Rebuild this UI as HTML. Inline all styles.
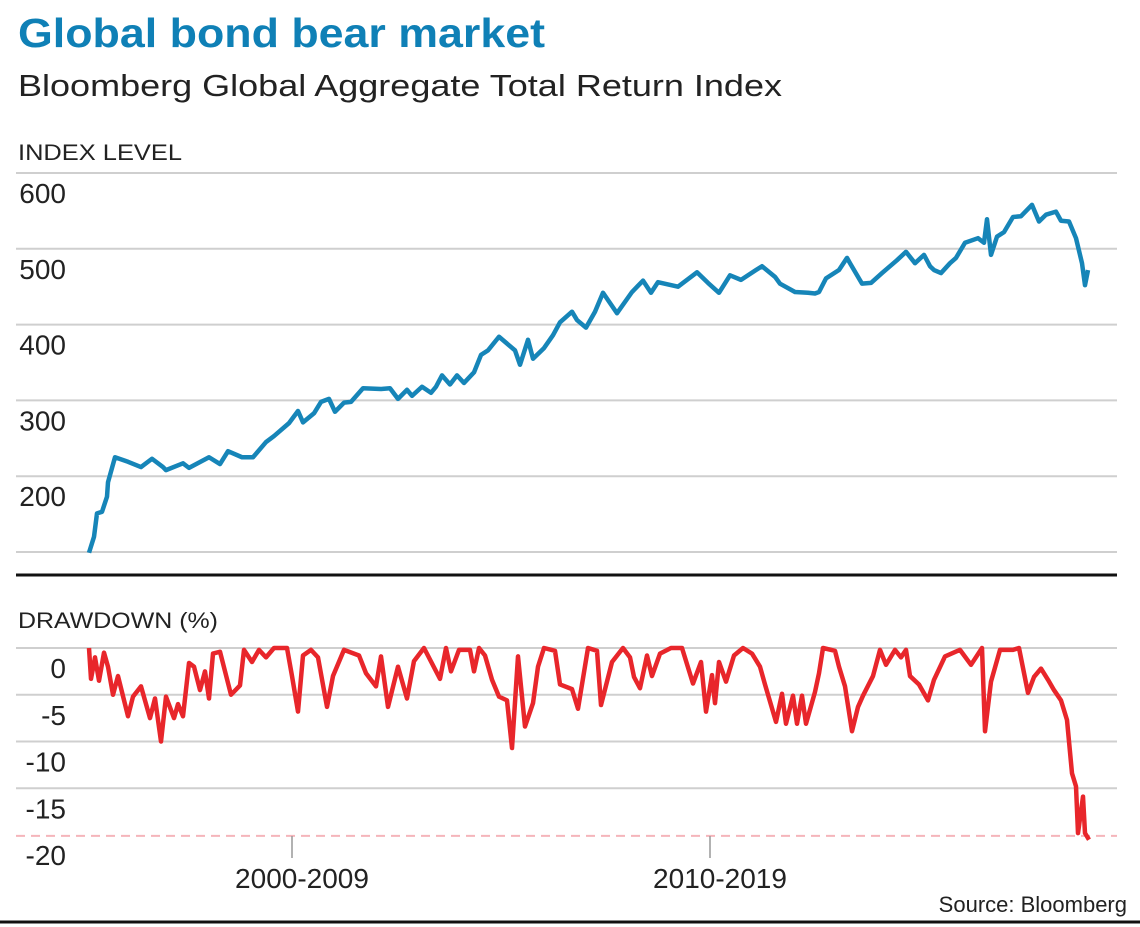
<!DOCTYPE html>
<html><head><meta charset="utf-8"><style>
body{margin:0;background:#fff;}
svg{display:block;font-family:"Liberation Sans",sans-serif;}
</style></head><body>
<svg width="1140" height="927" viewBox="0 0 1140 927">
<text x="18" y="47" font-size="41" font-weight="bold" fill="#0f80b6" textLength="527" lengthAdjust="spacingAndGlyphs">Global bond bear market</text>
<text x="18" y="96" font-size="31" fill="#222" textLength="764" lengthAdjust="spacingAndGlyphs">Bloomberg Global Aggregate Total Return Index</text>
<text x="18" y="160" font-size="22" fill="#222" textLength="164" lengthAdjust="spacingAndGlyphs">INDEX LEVEL</text>
<text x="18" y="628" font-size="22" fill="#222" textLength="200" lengthAdjust="spacingAndGlyphs">DRAWDOWN (%)</text>
<g id="topPanel"></g>
<g id="botPanel"></g>
<line x1="16" y1="575" x2="1117" y2="575" stroke="#111" stroke-width="3"/>
<line x1="0" y1="922" x2="1140" y2="922" stroke="#111" stroke-width="3"/>
<text x="1127" y="912" font-size="22" fill="#222" text-anchor="end">Source: Bloomberg</text>
</svg>
<script>
// x positions expressed as years: decade ticks at 2005 and 2015
const indexYears=[];
const indexXpx=[89,94,97,102,107,108,115,128,141,152,163,166,183,189,209,220,228,242,253,266,274,289,298,303,314,321,329,335,344,351,363,381,390,398,407,412,422,431,436,442,450,457,464,474,481,488,499,515,520,528,533,544,553,560,572,577,586,595,603,617,632,643,651,658,678,697,708,719,730,741,756,762,775,780,795,808,815,819,826,839,847,850,862,871,882,897,906,915,924,930,934,941,950,956,965,978,984,987,991,997,1004,1013,1021,1032,1039,1046,1056,1061,1069,1076,1082,1085,1088];
const indexValues=[99,120,151,153,173,192,225,219,212,223,212,208,217,211,225,216,233,225,225,245,253,270,286,271,283,298,302,285,297,298,316,315,316,302,314,306,318,310,318,333,321,333,323,337,360,366,384,366,347,380,355,369,386,403,417,406,396,417,442,415,443,458,442,456,450,469,455,442,465,459,472,477,463,454,443,442,441,443,461,472,488,481,454,455,468,485,496,481,492,477,472,468,481,488,508,514,508,539,492,516,522,542,543,558,536,545,549,537,536,514,481,452,472,452];
const ddXpx=[89,91,95,99,104,108,113,118,128,133,141,150,155,161,166,174,178,183,189,194,200,205,209,213,220,231,240,244,252,259,266,274,287,292,298,303,311,318,327,333,344,359,366,376,381,388,398,407,414,424,440,446,451,459,470,474,479,485,492,499,507,512,518,525,533,538,544,555,560,572,578,588,597,601,612,623,630,634,640,647,652,660,671,682,693,701,706,712,715,719,726,734,743,752,760,765,776,782,786,793,797,802,806,815,819,823,835,839,845,852,858,863,873,880,886,895,901,906,910,919,928,934,945,960,971,982,985,991,1000,1013,1019,1028,1034,1041,1048,1054,1061,1067,1072,1076,1078,1083,1085,1089];
const ddValues=[0,-3.3,-1,-3.5,-0.5,-2,-5,-3,-7.3,-5.2,-4.1,-7.5,-5.4,-10,-5.2,-7.5,-6,-7.3,-1.6,-2,-4.5,-2.5,-5.4,-0.6,-0.4,-5,-4,-0.2,-1.5,-0.2,-1,0,0,-3,-6.8,-0.8,-0.2,-1,-6.3,-3,-0.2,-0.8,-2.7,-4.1,-0.9,-6.3,-2,-5.4,-1.4,0,-3.3,0,-2.5,-0.2,-0.2,-2.5,0,-0.8,-3.4,-5.2,-5.6,-10.7,-0.9,-8.4,-5.9,-2,0,-0.3,-3.9,-4.4,-6.5,0,-0.3,-6.1,-1.5,0,-1,-3.1,-4.3,-0.8,-3,-0.6,0,0,-3.8,-1.5,-6.8,-2.9,-5.9,-1.5,-3.6,-0.8,0,-0.6,-2,-3.9,-7.9,-4.9,-8.1,-5.1,-8.1,-5.1,-8.1,-4.7,-2.7,0,-0.3,-2,-4.1,-8.9,-6.3,-5.1,-3,-0.2,-1.8,-0.2,-1,-0.2,-3,-3.9,-5.6,-3.4,-0.9,-0.2,-1.8,0,-8.9,-3.6,-0.2,-0.2,0,-4.8,-3.1,-2.2,-3.4,-4.5,-5.6,-7.7,-13.4,-14.8,-19.8,-15.9,-19.8,-20.5];
const ddYears=[];
indexXpx.forEach(p=>indexYears.push(2005+(p-292)/41.8));
ddXpx.forEach(p=>ddYears.push(2005+(p-292)/41.8));
const indexTicks=[600,500,400,300,200,100];
const ddTicks=[0,-5,-10,-15];
const decadeLabels=["2000-2009","2010-2019"];
const decadeTickYears=[2005,2015];

const NS="http://www.w3.org/2000/svg";
const xS=t=>292+(t-2005)*41.8;
const yTop=v=>173+(600-v)*0.758;
const yBot=v=>648-v*9.35;
function mk(tag,attrs,parent){const e=document.createElementNS(NS,tag);for(const k in attrs)e.setAttribute(k,attrs[k]);parent.appendChild(e);return e;}
const topG=document.getElementById('topPanel'),botG=document.getElementById('botPanel');
indexTicks.forEach(v=>{
  const l=mk('line',{x1:16,x2:1117,y1:yTop(v),y2:yTop(v),stroke:'#cfcfcf','stroke-width':2},topG);
  
  
  if(v>100){const t=mk('text',{x:66,y:yTop(v)+30,'font-size':28,fill:'#222','text-anchor':'end'},topG);t.textContent=v;
  
  }
});
ddTicks.forEach(v=>{
  const l=mk('line',{x1:16,x2:1117,y1:yBot(v),y2:yBot(v),stroke:'#cfcfcf','stroke-width':2},botG);
  
  
});
[0,-5,-10,-15,-20].forEach(v=>{
  const t=mk('text',{x:66,y:yBot(v)+30,'font-size':28,fill:'#222','text-anchor':'end'},botG);t.textContent=v;
  
  
});
const dl=mk('line',{x1:16,x2:1117,y1:yBot(-20.1),y2:yBot(-20.1),stroke:'#f5b5bb','stroke-width':2,'stroke-dasharray':'9,6'},botG);


decadeTickYears.forEach((yr,i)=>{
  const tk=mk('line',{x1:xS(yr),x2:xS(yr),y1:836,y2:858,stroke:'#999','stroke-width':1.5},botG);
  
  
  const t=mk('text',{x:xS(yr)+10,y:888,'font-size':28,fill:'#222','text-anchor':'middle'},botG);t.textContent=decadeLabels[i];
  
  
});
const ip=mk('polyline',{points:indexYears.map((t,i)=>xS(t)+','+yTop(indexValues[i])).join(' '),fill:'none',stroke:'#1685b8','stroke-width':4.5,'stroke-linejoin':'round'},topG);


const dp=mk('polyline',{points:ddYears.map((t,i)=>xS(t)+','+yBot(ddValues[i])).join(' '),fill:'none',stroke:'#e8262b','stroke-width':4.5,'stroke-linejoin':'round'},botG);


</script>
</body></html>
